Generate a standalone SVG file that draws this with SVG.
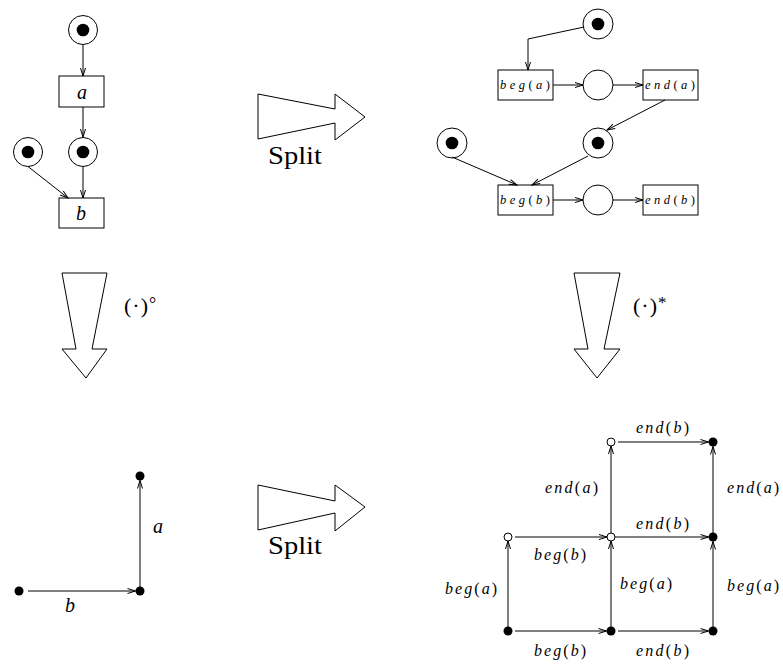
<svg xmlns="http://www.w3.org/2000/svg" width="783" height="668" viewBox="0 0 783 668">
<defs>
<style>
.e{stroke:#000;stroke-width:1;fill:none}
.pl{stroke:#000;stroke-width:1;fill:#fff}
.tr{stroke:#000;stroke-width:1;fill:#fff}
.tok{fill:#000}
.big{stroke:#000;stroke-width:1;fill:#fff}
.t{font-family:"Liberation Serif","DejaVu Serif",serif;fill:#000}
.it{font-style:italic}
.hol{stroke:#000;stroke-width:1;fill:#fff}
</style>
<marker id="ah" markerUnits="userSpaceOnUse" markerWidth="12" markerHeight="10" refX="9" refY="4" orient="auto">
<path d="M1,1.5 L9,4 L1,6.5" fill="none" stroke="#000" stroke-width="1"/>
</marker>
</defs>

<!-- Top-left net -->
<g id="tl_p1"><circle class="pl" cx="83" cy="30" r="14.5"/><circle class="tok" cx="83" cy="30" r="6.3"/></g>
<g id="tl_a"><rect class="tr" x="59" y="76" width="45" height="31"/><text class="t it" x="82" y="99" font-size="20" text-anchor="middle">a</text></g>
<g id="tl_p2"><circle class="pl" cx="83" cy="152" r="14.5"/><circle class="tok" cx="83" cy="152" r="6.3"/></g>
<g id="tl_p3"><circle class="pl" cx="28" cy="152" r="14.5"/><circle class="tok" cx="28" cy="152" r="6.3"/></g>
<g id="tl_b"><rect class="tr" x="59" y="198" width="45" height="30"/><text class="t it" x="81" y="220" font-size="20" text-anchor="middle">b</text></g>

<!-- Top-right net -->
<g id="tr_p1"><circle class="pl" cx="598" cy="24" r="15"/><circle class="tok" cx="598" cy="24" r="6.3"/></g>
<g id="tr_bega"><rect class="tr" x="498" y="70" width="55" height="30"/><text class="t" x="500" y="89" font-size="12.5" textLength="50" lengthAdjust="spacing"><tspan class="it">beg</tspan>(<tspan class="it">a</tspan>)</text></g>
<g id="tr_p2"><circle class="pl" cx="598" cy="85" r="15"/></g>
<g id="tr_enda"><rect class="tr" x="643" y="70" width="55" height="30"/><text class="t" x="645" y="89" font-size="12.5" textLength="50" lengthAdjust="spacing"><tspan class="it">end</tspan>(<tspan class="it">a</tspan>)</text></g>
<g id="tr_p3"><circle class="pl" cx="452" cy="143" r="15"/><circle class="tok" cx="452" cy="143" r="6.3"/></g>
<g id="tr_p4"><circle class="pl" cx="598" cy="143" r="15"/><circle class="tok" cx="598" cy="143" r="6.3"/></g>
<g id="tr_begb"><rect class="tr" x="498" y="185" width="55" height="30"/><text class="t" x="500" y="204" font-size="12.5" textLength="50" lengthAdjust="spacing"><tspan class="it">beg</tspan>(<tspan class="it">b</tspan>)</text></g>
<g id="tr_p5"><circle class="pl" cx="598" cy="200" r="15"/></g>
<g id="tr_endb"><rect class="tr" x="643" y="185" width="55" height="30"/><text class="t" x="645" y="204" font-size="12.5" textLength="50" lengthAdjust="spacing"><tspan class="it">end</tspan>(<tspan class="it">b</tspan>)</text></g>

<!-- Big arrows -->
<g id="split_top"><polygon class="big" points="258,94 335,109 335,94 365,117 335,140 335,123 258,139"/><text class="t" x="268" y="164" font-size="26" textLength="54" lengthAdjust="spacingAndGlyphs">Split</text></g>
<g id="split_bottom"><polygon class="big" points="258,485 335,501 335,485 365,507 335,531 335,513 258,530"/><text class="t" x="268" y="554" font-size="26" textLength="54" lengthAdjust="spacingAndGlyphs">Split</text></g>
<g id="down_left"><polygon class="big" points="62,273 107,273 92,349 107,349 86,378 62,349 76,349"/><text class="t" x="124" y="313" font-size="22">(<tspan dx="1">·</tspan><tspan dx="1">)</tspan><tspan font-size="18" dy="-3" dx="1">°</tspan></text></g>
<g id="down_right"><polygon class="big" points="574,273 620,273 604,349 620,349 597,378 574,349 588,349"/><text class="t" x="633" y="313" font-size="22">(<tspan dx="1">·</tspan><tspan dx="1">)</tspan><tspan font-size="17" dy="-5" dx="1">*</tspan></text></g>

<!-- Bottom-left graph -->
<g id="bl_n1"><circle class="tok" cx="19" cy="591" r="4.5"/></g>
<g id="bl_n2"><circle class="tok" cx="140" cy="591" r="4.5"/></g>
<g id="bl_n3"><circle class="tok" cx="140" cy="476" r="4.5"/></g>

<!-- Bottom-right graph -->
<g id="br_n1"><circle class="tok" cx="508" cy="631" r="4.5"/></g>
<g id="br_n2"><circle class="tok" cx="611" cy="631" r="4.5"/></g>
<g id="br_n3"><circle class="tok" cx="713" cy="631" r="4.5"/></g>
<g id="br_n4"><circle class="hol" cx="508" cy="537" r="4"/></g>
<g id="br_n5"><circle class="hol" cx="611" cy="537" r="4"/></g>
<g id="br_n6"><circle class="tok" cx="713" cy="537" r="4.5"/></g>
<g id="br_n7"><circle class="hol" cx="611" cy="442" r="4"/></g>
<g id="br_n8"><circle class="tok" cx="713" cy="442" r="4.5"/></g>

<g id="connectors">
<!-- top-left -->
<line class="e" x1="83" y1="45" x2="83" y2="76" marker-end="url(#ah)"/>
<line class="e" x1="83" y1="107" x2="83" y2="137" marker-end="url(#ah)"/>
<line class="e" x1="28" y1="166.5" x2="68" y2="198" marker-end="url(#ah)"/>
<line class="e" x1="83" y1="167" x2="83" y2="198" marker-end="url(#ah)"/>
<!-- top-right -->
<polyline class="e" points="584,27 528,39 528,70" marker-end="url(#ah)"/>
<line class="e" x1="553" y1="85" x2="583" y2="85" marker-end="url(#ah)"/>
<line class="e" x1="613" y1="85" x2="643" y2="85" marker-end="url(#ah)"/>
<line class="e" x1="665" y1="100" x2="607" y2="130" marker-end="url(#ah)"/>
<line class="e" x1="452" y1="157" x2="517" y2="185" marker-end="url(#ah)"/>
<line class="e" x1="588" y1="156" x2="532" y2="185" marker-end="url(#ah)"/>
<line class="e" x1="553" y1="200" x2="583" y2="200" marker-end="url(#ah)"/>
<line class="e" x1="613" y1="200" x2="643" y2="200" marker-end="url(#ah)"/>
<!-- bottom-left -->
<line class="e" x1="28" y1="591" x2="135.5" y2="591" marker-end="url(#ah)"/>
<line class="e" x1="140" y1="591" x2="140" y2="480.5" marker-end="url(#ah)"/>
<text class="t it" x="153" y="533" font-size="20">a</text>
<text class="t it" x="65" y="612" font-size="20">b</text>
<!-- bottom-right -->
<line class="e" x1="515" y1="631" x2="606.5" y2="631" marker-end="url(#ah)"/>
<line class="e" x1="618" y1="631" x2="708.5" y2="631" marker-end="url(#ah)"/>
<line class="e" x1="508" y1="631" x2="508" y2="541" marker-end="url(#ah)"/>
<line class="e" x1="515" y1="537" x2="607" y2="537" marker-end="url(#ah)"/>
<line class="e" x1="611" y1="631" x2="611" y2="541" marker-end="url(#ah)"/>
<line class="e" x1="713" y1="631" x2="713" y2="541.5" marker-end="url(#ah)"/>
<line class="e" x1="615" y1="537" x2="708.5" y2="537" marker-end="url(#ah)"/>
<line class="e" x1="713" y1="537" x2="713" y2="446.5" marker-end="url(#ah)"/>
<line class="e" x1="611" y1="533" x2="611" y2="446" marker-end="url(#ah)"/>
<line class="e" x1="618" y1="442" x2="708.5" y2="442" marker-end="url(#ah)"/>
<g font-size="16">
<text class="t" x="534" y="656" textLength="52" lengthAdjust="spacing"><tspan class="it">beg</tspan>(<tspan class="it">b</tspan>)</text>
<text class="t" x="636" y="656" textLength="53" lengthAdjust="spacing"><tspan class="it">end</tspan>(<tspan class="it">b</tspan>)</text>
<text class="t" x="445" y="594" textLength="52" lengthAdjust="spacing"><tspan class="it">beg</tspan>(<tspan class="it">a</tspan>)</text>
<text class="t" x="534" y="560" textLength="52" lengthAdjust="spacing"><tspan class="it">beg</tspan>(<tspan class="it">b</tspan>)</text>
<text class="t" x="620" y="589" textLength="52" lengthAdjust="spacing"><tspan class="it">beg</tspan>(<tspan class="it">a</tspan>)</text>
<text class="t" x="727" y="591" textLength="52" lengthAdjust="spacing"><tspan class="it">beg</tspan>(<tspan class="it">a</tspan>)</text>
<text class="t" x="636" y="529" textLength="53" lengthAdjust="spacing"><tspan class="it">end</tspan>(<tspan class="it">b</tspan>)</text>
<text class="t" x="727" y="493" textLength="52" lengthAdjust="spacing"><tspan class="it">end</tspan>(<tspan class="it">a</tspan>)</text>
<text class="t" x="545" y="493" textLength="53" lengthAdjust="spacing"><tspan class="it">end</tspan>(<tspan class="it">a</tspan>)</text>
<text class="t" x="636" y="433" textLength="53" lengthAdjust="spacing"><tspan class="it">end</tspan>(<tspan class="it">b</tspan>)</text>
</g>
</g>
</svg>
